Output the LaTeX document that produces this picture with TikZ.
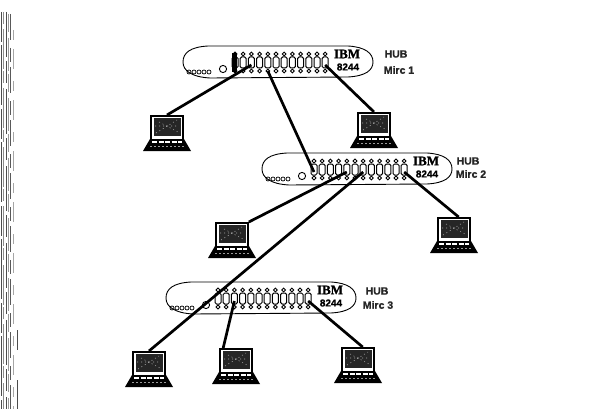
\documentclass[tikz,border=0pt]{standalone}
\usepackage{fontspec}
\setmainfont{Liberation Sans}
\newfontfamily\ibmfont[FakeBold=1.6]{Liberation Serif}
\newfontfamily\labelfont[FakeBold=1.0]{Liberation Sans}
\usetikzlibrary{calc}
\tikzset{
  x=1pt,y=-1pt,
  link/.style={draw=black,line width=2.7pt},
  hubbody/.style={draw=none,minimum width=190pt,minimum height=32pt,inner sep=0pt},
  hublabel/.style={font=\labelfont\fontsize{10.5}{11}\selectfont\bfseries,inner sep=0pt,text=black!85},
  ibmlabel/.style={font=\ibmfont\fontsize{13}{13}\selectfont\bfseries,inner sep=0pt},
  modellabel/.style={font=\labelfont\fontsize{10}{10}\selectfont\bfseries,inner sep=0pt},
  scanline/.style={draw=black!70,line width=1pt},
  hub/.pic={
    \node[hubbody] (box) at (0,0) {};
    \draw[line width=0.9pt,fill=white] (-70,-16) .. controls (-88,-15) and (-95,-9) .. (-95,0)
       .. controls (-95,9) and (-86,15) .. (-68,16) -- (70,15)
       .. controls (88,14) and (95,8) .. (95,0)
       .. controls (95,-9) and (87,-15) .. (70,-16) -- cycle;
    \foreach \r in {0,1,2,3,4}{\draw[line width=0.7pt] (-89+\r*5,10) circle (2);}
    \draw[line width=0.9pt] (-55,7) circle (3.6);
    \foreach \i in {1,...,12}{
      \coordinate (t\i) at ({-43+(\i-1)*8.2},-6);
      \coordinate (p\i) at ({-43+(\i-1)*8.2},3);
      \coordinate (b\i) at ({-43+(\i-1)*8.2},9);
      \draw[line width=0.9pt] ({-43+(\i-1)*8.2},-8) circle (1.9);
      \draw[line width=0.9pt] ({-43+(\i-1)*8.2},9) circle (1.9);
      \draw[line width=1pt,rounded corners=1.5pt] ({-46+(\i-1)*8.2},-5) rectangle ({-40+(\i-1)*8.2},6);
    }
    \node[ibmlabel] (brand) at (69,-8) {IBM};
    \node[modellabel] (model) at (70,5) {8244};
  },
  laptop/.pic={
    \node[draw=black,line width=1.6pt,fill=white,minimum width=32pt,minimum height=24pt,inner sep=0pt,anchor=north] (lid) at (0,0) {};
    \fill[black!85] (-13.5,2.5) rectangle (13.5,21);
    \draw[white!65!black,line width=0.6pt,dash pattern=on 1pt off 3pt] (-11,18) -- (10,5) (-8,7) -- (11,17) (-12,11) -- (11,11);
    \fill[black] (-17,24) -- (17,24) -- (24,36) -- (-24,36) -- cycle;
    \draw[white,line width=1.1pt,dash pattern=on 5pt off 1.5pt] (-15,27) -- (15,27);
    \draw[white!60!black,line width=0.7pt,dash pattern=on 2pt off 2pt] (-17,31) -- (17,31);
  }
}
\begin{document}
\begin{tikzpicture}
\useasboundingbox (0,0) rectangle (601,409);
\fill[white] (0,0) rectangle (601,409);
% scan noise at the left edge
\draw[scanline,dash pattern=on 30pt off 3pt on 60pt off 4pt] (1,12) -- (1,409);
\draw[scanline,black!45,dash pattern=on 12pt off 5pt on 40pt off 2pt] (3.5,12) -- (3.5,409);
\draw[scanline,dash pattern=on 45pt off 4pt on 22pt off 6pt] (6,12) -- (6,409);
\draw[scanline,black!40,dash pattern=on 18pt off 6pt on 33pt off 3pt] (8.5,14) -- (8.5,409);
\draw[scanline,black!65,dash pattern=on 26pt off 8pt on 14pt off 5pt] (10.5,14) -- (10.5,409);
\draw[scanline,black!35,dash pattern=on 10pt off 9pt on 20pt off 12pt] (13,30) -- (13,409);
\draw[scanline,black!70,dash pattern=on 20pt off 30pt on 40pt off 10pt] (17.5,330) -- (17.5,409);

\pic (hubA) at (278,62) {hub};
\pic (hubB) at (357,169) {hub};
\pic (hubC) at (261,298) {hub};
\fill[black] (232,53) rectangle (237,72);

\node[hublabel] (hubAt) at (396,54) {HUB};
\node[hublabel] (hubAm) at (399,70) {Mirc 1};
\node[hublabel] (hubBt) at (468,161) {HUB};
\node[hublabel] (hubBm) at (471,174) {Mirc 2};
\node[hublabel] (hubCt) at (377,291) {HUB};
\node[hublabel] (hubCm) at (378,305) {Mirc 3};

\pic (lapA) at (167,115) {laptop};
\pic (lapB) at (374,112) {laptop};
\pic (lapC) at (232,222) {laptop};
\pic (lapD) at (454,217) {laptop};
\pic (lapE) at (149,351) {laptop};
\pic (lapF) at (236,348) {laptop};
\pic (lapG) at (358,347) {laptop};

\draw[link] (hubAp3) -- (lapAlid.north);
\draw[link] (hubAb5) -- (hubBp1);
\draw[link] (hubAp12) -- (lapBlid.north);
\draw[link] (hubBp5) -- (lapClid.north east);
\draw[link] (hubBp7) -- (lapElid.north);
\draw[link] (hubBp12) -- (lapDlid.70);
\draw[link] (hubCp3) -- (lapFlid.135);
\draw[link] (hubCp12) -- (lapGlid.70);
\end{tikzpicture}
\end{document}
